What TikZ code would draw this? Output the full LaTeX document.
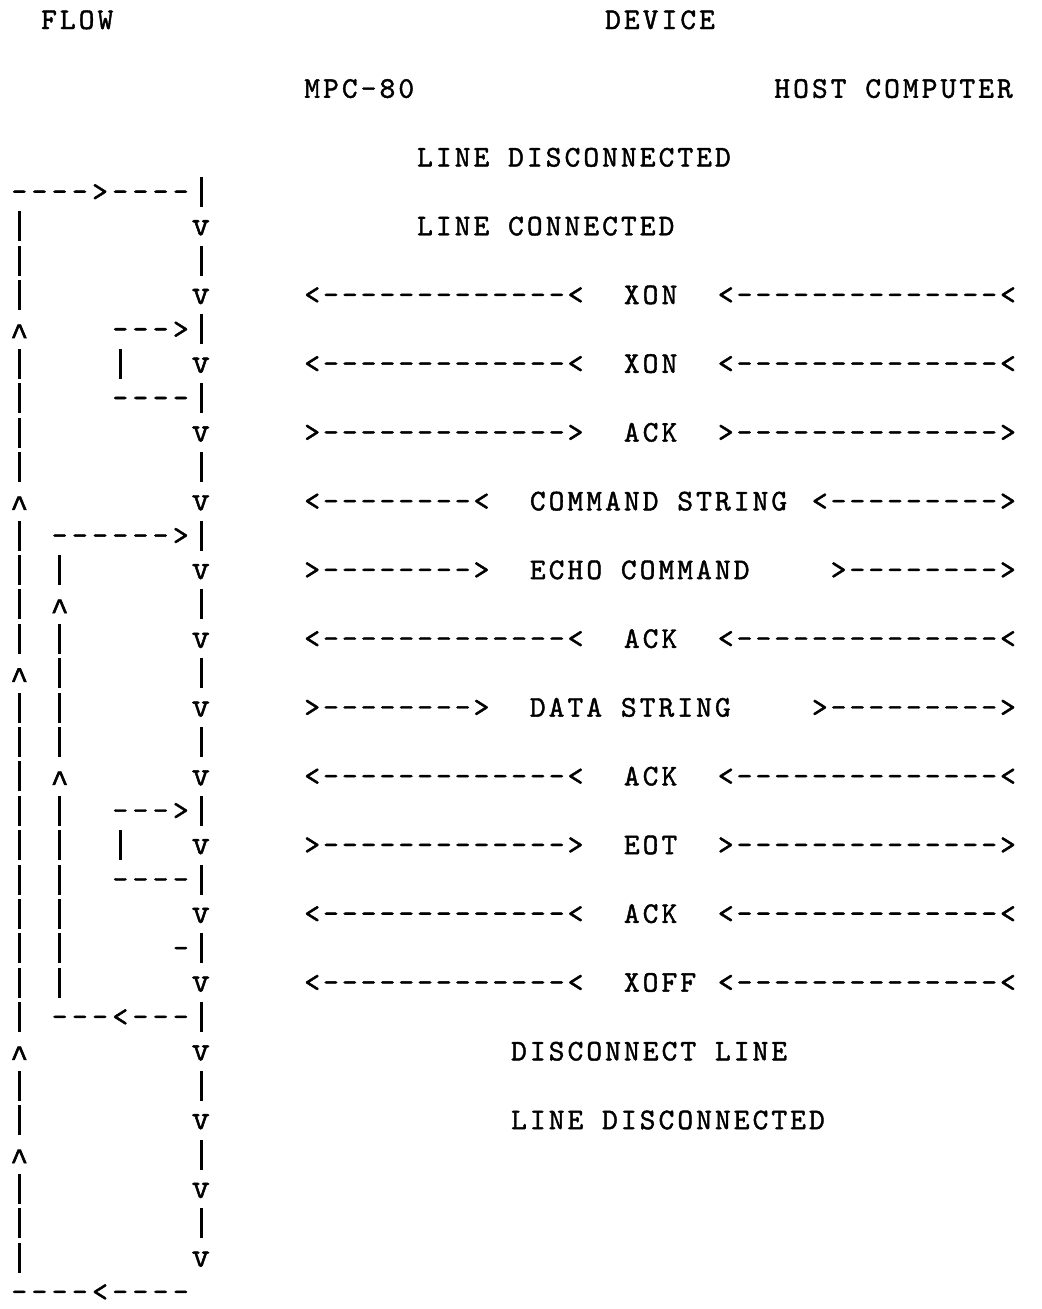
\documentclass[tikz,border=0pt]{standalone}
\usepackage{fontspec}
\usepackage{graphicx}
\usepackage{tikz}
\newfontfamily\typefont{lmmono10-regular.otf}[LetterSpace=10.2,Ligatures=TeXOff,FakeBold=1.4]
\newfontfamily\flowfont{lmmono10-regular.otf}[LetterSpace=14.8,Ligatures=TeXOff,FakeBold=1.4]
\newfontfamily\caretfont{Liberation Mono}[FakeBold=2]
% typed bar and caret, one character cell wide
\newcommand\vbar{\makebox[0.525em]{\rule[-0.2em]{0.1em}{1em}}}
\newcommand\caret{\makebox[0.525em]{\raisebox{-0.2em}{\caretfont\textasciicircum}}}

\begin{document}
\begin{tikzpicture}[
  lbl/.style={font=\typefont\fontsize{18}{18}\selectfont,anchor=base west,inner sep=0pt},
  chr/.style={font=\flowfont\fontsize{18}{18}\selectfont,anchor=base west,inner sep=0pt},
  vmark/.style={font=\flowfont\fontsize{21}{21}\selectfont,anchor=base,inner sep=0pt,xshift=4.7pt}
]
\useasboundingbox (0,0) rectangle (625.2pt,-785.4pt);

% message side: one unit = one typed character, one row = half a line
\begin{scope}[x=11.28pt,y=-20.628pt,shift={(182.4pt,-17.4pt)}]
\node[lbl] (flow)   at (-14,0) {FLOW};
\node[lbl] (device) at (16,0)  {DEVICE};
\node[lbl] (mpc)    at (0,2)   {MPC-80};
\node[lbl] (host)   at (25,2)  {HOST COMPUTER};
\node[lbl] (off1)   at (6,4)   {LINE DISCONNECTED};
\node[lbl] (on)     at (6,6)   {LINE CONNECTED};

\foreach \r/\msg/\lft/\rgt in {
    8/XON/{<-------------<}/{<--------------<},
    10/XON/{<-------------<}/{<--------------<},
    12/ACK/{>------------->}/{>-------------->},
    18/ACK/{<-------------<}/{<--------------<},
    22/ACK/{<-------------<}/{<--------------<},
    24/EOT/{>------------->}/{>-------------->},
    26/ACK/{<-------------<}/{<--------------<},
    28/XOFF/{<-------------<}/{<--------------<}}{
  \node[lbl] (l\r) at (0,\r)  {\lft};
  \node[lbl] (m\r) at (17,\r) {\msg};
  \node[lbl] (r\r) at (22,\r) {\rgt};
}

\node[lbl] (l14) at (0,14)  {<--------<};
\node[lbl] (m14) at (12,14) {COMMAND STRING};
\node[lbl] (r14) at (27,14) {<--------->};
\node[lbl] (l16) at (0,16)  {>-------->};
\node[lbl] (m16) at (12,16) {ECHO COMMAND};
\node[lbl] (r16) at (28,16) {>-------->};
\node[lbl] (l20) at (0,20)  {>-------->};
\node[lbl] (m20) at (12,20) {DATA STRING};
\node[lbl] (r20) at (27,20) {>--------->};

\node[lbl] (drop) at (11,30) {DISCONNECT LINE};
\node[lbl] (off2) at (11,32) {LINE DISCONNECTED};
\end{scope}

% flow side
\begin{scope}[x=12.12pt,y=-20.628pt,shift={(6.66pt,-17.4pt)}]
% main column
\foreach \r in {6,8,...,36}
  \node[vmark] (v\r) at (9,\r) {v};
\foreach \r in {5,7,...,35}
  \node[chr] (s\r) at (9,\r) {\vbar};
% outer return line
\foreach \r in {6,7,8,10,11,12,13,15,16,17,18,20,21,22,23,24,25,26,27,28,29,31,32,34,35,36}
  \node[chr] (o\r) at (0,\r) {\vbar};
\foreach \r in {9,14,19,30,33}
  \node[chr] (oa\r) at (0,\r) {\caret};
% inner return line
\foreach \r in {16,18,19,20,21,23,24,25,26,27,28}
  \node[chr] (i\r) at (2,\r) {\vbar};
\foreach \r in {17,22}
  \node[chr] (ia\r) at (2,\r) {\caret};
% dashed runs and short loops
\node[chr] (entry)  at (0,5)  {---->----};
\node[chr] (loopA)  at (5,9)  {--->};
\node[chr] (loopAb) at (5,10) {\vbar};
\node[chr] (loopAc) at (5,11) {----};
\node[chr] (back)   at (2,15) {------>};
\node[chr] (loopB)  at (5,23) {--->};
\node[chr] (loopBb) at (5,24) {\vbar};
\node[chr] (loopBc) at (5,25) {----};
\node[chr] (stub)   at (8,27) {-};
\node[chr] (exit)   at (2,29) {---<---};
\node[chr] (bottom) at (0,37) {----<----};
\end{scope}
\end{tikzpicture}
\end{document}
